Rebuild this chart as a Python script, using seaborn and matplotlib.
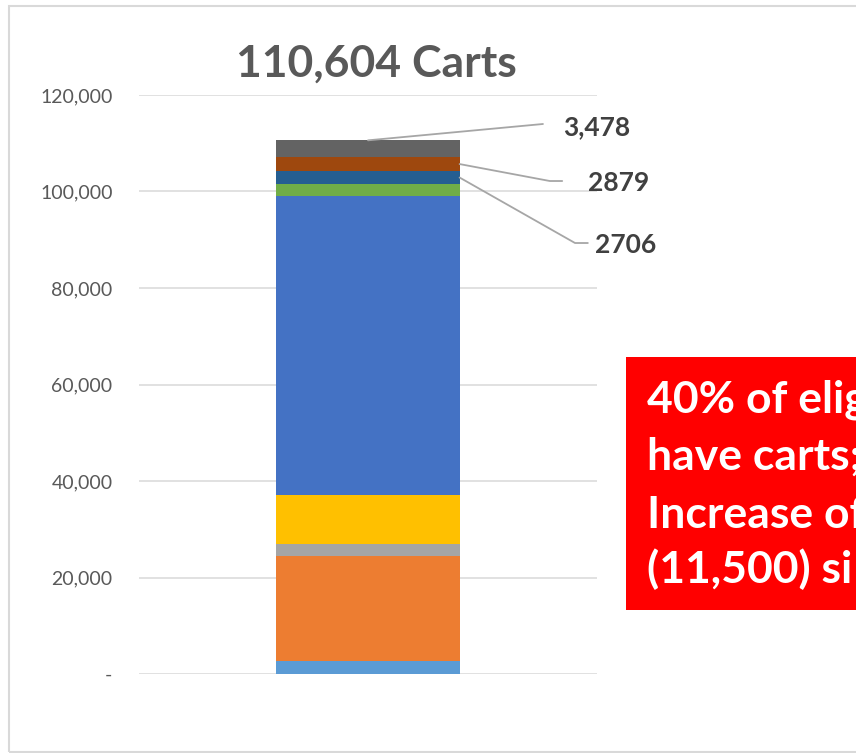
import matplotlib
matplotlib.use("Agg")
import matplotlib.pyplot as plt
from matplotlib.patches import Rectangle
import seaborn as sns
import numpy as np
import pandas as pd

# ---- data ----
category = "Carts"
segments = ["Seg1", "Seg2", "Seg3", "Seg4", "Seg5", "Seg6", "Seg7", "Seg8", "Seg9"]
values = [2700, 21800, 2400, 10300, 61900, 2441, 2706, 2879, 3478]
colors = ["#5B9BD5", "#ED7D31", "#A5A5A5", "#FFC000", "#4472C4",
          "#70AD47", "#255E91", "#9E480E", "#636363"]
title_text = "110,604 Carts"
yticks = [0, 20000, 40000, 60000, 80000, 100000, 120000]
ytick_labels = ["-", "20,000", "40,000", "60,000", "80,000", "100,000", "120,000"]
label_texts = ["3,478", "2879", "2706"]
callout_lines = ["40% of elig", "have carts;", "Increase of", "(11,500) si"]

sns.set_theme(style="white")
plt.rcParams['font.family'] = ['Lato', 'DejaVu Sans']

W, H = 856, 753
fig = plt.figure(figsize=(W / 100, H / 100), dpi=100)
fig.patch.set_facecolor("white")

def fx(px):
    return px / W

def fy(py):
    return 1 - py / H

ax = fig.add_axes([fx(139), fy(674), fx(597) - fx(139), fy(95) - fy(674)])

cum = np.cumsum(values)
df = pd.DataFrame({"cat": [category] * len(values), "top": cum, "seg": segments})
# draw cumulative bars from tallest to shortest (stacked look)
for i in range(len(values) - 1, -1, -1):
    sns.barplot(data=df.iloc[[i]], x="cat", y="top", color=colors[i],
                width=0.4, ax=ax, saturation=1, linewidth=0, edgecolor="none")

ax.set_xlim(-0.5, 0.5)
ax.set_ylim(0, 120000)
ax.set_yticks(yticks)
ax.set_yticklabels(ytick_labels, fontsize=14, color="#595959")
ax.set_xticks([])
ax.set_xlabel("")
ax.set_ylabel("")
ax.tick_params(axis="y", length=0, pad=19)
ax.grid(axis="y", color="#D9D9D9", linewidth=1.1)
ax.set_axisbelow(True)
for s in ax.spines.values():
    s.set_visible(False)
ax.patch.set_alpha(0)

# ---- leader lines + labels ----
lc = "#A6A6A6"
lw = 1.3
tc = "#404040"
half = 0.2
# top segment: from top edge of bar
top_total = cum[-1]
ax.plot([0.0, 0.382], [top_total, 113990], color=lc, lw=lw, clip_on=False)
ax.text(0.426, 113400, label_texts[0], fontsize=19, fontweight="bold",
        color=tc, va="center", ha="left", clip_on=False)
# brown segment
mid8 = cum[7] - values[7] / 2
ax.plot([half, 0.397, 0.424], [mid8, 102174, 102174], color=lc, lw=lw, clip_on=False)
ax.text(0.48, 101760, label_texts[1], fontsize=19, fontweight="bold",
        color=tc, va="center", ha="left", clip_on=False)
# dark blue segment
mid7 = cum[6] - values[6] / 2
ax.plot([half, 0.452, 0.48], [mid7, 89325, 89325], color=lc, lw=lw, clip_on=False)
ax.text(0.496, 88910, label_texts[2], fontsize=19, fontweight="bold",
        color=tc, va="center", ha="left", clip_on=False)

# ---- title ----
fig.text(fx(376), fy(77), title_text, fontsize=32, fontweight="bold",
         color="#595959", ha="center", va="baseline")

# ---- red callout box ----
fig.patches.append(Rectangle((fx(626), fy(610)), 1.0, fy(357) - fy(610),
                             transform=fig.transFigure, facecolor="#FF0000",
                             edgecolor="none", zorder=5))
for line, base in zip(callout_lines, [413, 470, 528, 583]):
    fig.text(fx(647), fy(base), line, fontsize=32, fontweight="bold",
             color="white", ha="left", va="baseline", zorder=6)

# ---- chart area border ----
fig.patches.append(Rectangle((fx(9), fy(752)), 1.2, fy(6) - fy(752),
                             transform=fig.transFigure, facecolor="none",
                             edgecolor="#D9D9D9", linewidth=1.5, zorder=1))

fig.savefig("out.png", dpi=100)
